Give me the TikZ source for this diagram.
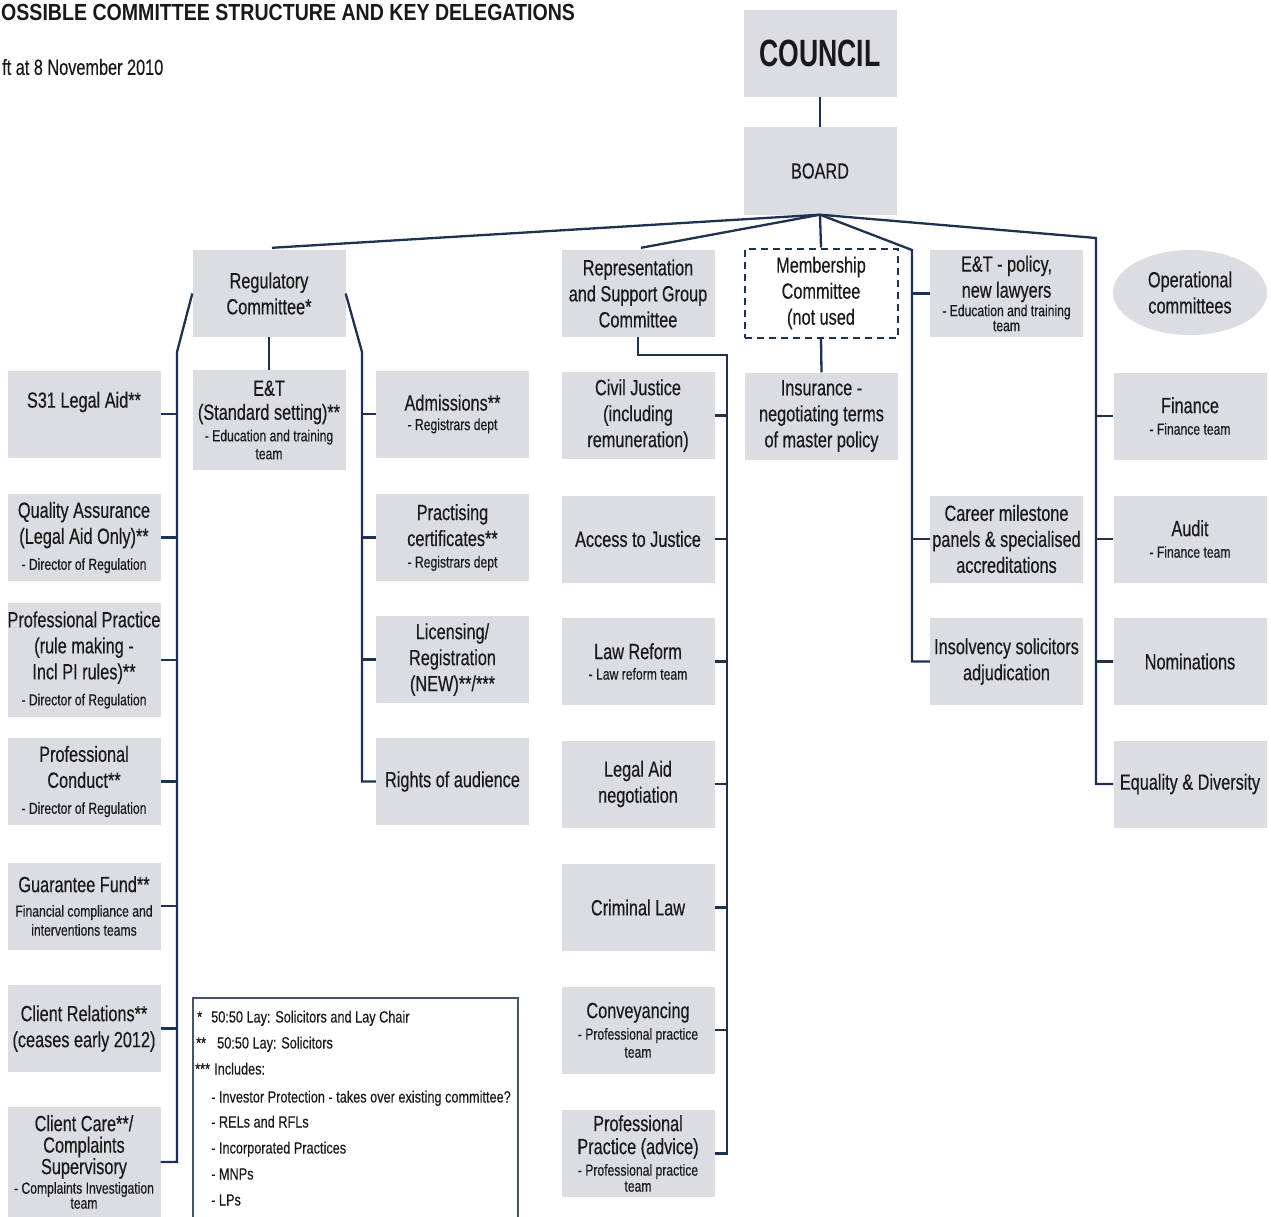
\documentclass[tikz,border=0pt]{standalone}
\usepackage{fontspec}
\setmainfont{Liberation Sans}
\newfontfamily\nar[FakeStretch=0.74,FakeBold=0.35]{Liberation Sans}
\newfontfamily\narsub[FakeStretch=0.76,FakeBold=0.3]{Liberation Sans}
\newfontfamily\narleg[FakeStretch=0.78,FakeBold=0.3]{Liberation Sans}
\newfontfamily\narbig[FakeStretch=0.7]{Liberation Sans}
\newfontfamily\tnar[FakeStretch=0.84]{Liberation Sans}
\usetikzlibrary{shapes.geometric}
\definecolor{boxg}{RGB}{219,221,227}
\definecolor{linec}{RGB}{28,50,80}
\definecolor{legc}{RGB}{70,85,105}
\definecolor{txt}{RGB}{25,25,25}
\newcommand\mysub{\narsub\fontsize{16}{18}\selectfont}
\newcommand\mymain{\nar\fontsize{22}{26}\selectfont}
\newcommand\mylegf{\narleg\fontsize{16.3}{19}\selectfont}
\tikzset{
  box/.style={fill=boxg, minimum width=153pt, minimum height=87pt, inner sep=0pt, align=center, font=\mymain, text=txt},
  conn/.style={draw=linec, line width=2.3pt},
  legtxt/.style={anchor=base west, inner sep=0pt, font=\mylegf, text=txt}
}
\begin{document}
\begin{tikzpicture}[x=1pt,y=-1pt]
\useasboundingbox (0,0) rectangle (1271,1217);
% header
\node[anchor=west, inner sep=0pt, font=\tnar\bfseries\fontsize{23.3}{26}\selectfont, text=txt] (title) at (1,12) {OSSIBLE COMMITTEE STRUCTURE AND KEY DELEGATIONS};
\node[anchor=west, inner sep=0pt, font=\mymain, text=txt] (draft) at (2,67) {ft at 8 November 2010};

% top
\node[box, font=\narbig\bfseries\fontsize{38}{40}\selectfont] (council) at (820,53.5) {COUNCIL};
\node[box] (board) at (820,171) {BOARD};

% second level
\node[box] (reg) at (269,293.5) {Regulatory\\Committee*};
\node[box] (rep) at (638,293.5) {Representation\\and Support Group\\Committee};
\node[box, fill=none, draw=linec, line width=2pt, dash pattern=on 7pt off 5pt, minimum height=89pt] (memb) at (821,293) {Membership\\Committee\\(not used};
\node[box] (etpol) at (1006.5,293.5) {E\&T - policy,\\new lawyers\\[-7.5pt]{\mysub - Education and training}\\[-11pt]{\mysub team}};
\node[box, ellipse, minimum width=154pt, minimum height=85pt] (oper) at (1190,292.5) {Operational\\committees};

% left column
\node[box] (s31) at (84,414) {\raisebox{12pt}[\height][\depth]{S31 Legal Aid**}};
\node[box] (qa) at (84,537.5) {Quality Assurance\\(Legal Aid Only)**\\{\mysub - Director of Regulation}};
\node[box, minimum height=114pt] (pp) at (84,660) {Professional Practice\\(rule making -\\Incl PI rules)**\\{\mysub - Director of Regulation}};
\node[box] (pc) at (84,781.5) {Professional\\Conduct**\\{\mysub - Director of Regulation}};
\node[box] (gf) at (84,906) {Guarantee Fund**\\[-1.5pt]{\mysub Financial compliance and}\\[-7pt]{\mysub interventions teams}};
\node[box] (cr) at (84,1028.5) {Client Relations**\\(ceases early 2012)};
\node[box, minimum height=110pt] (cc) at (84,1162) {Client Care**/\\[-4.5pt]Complaints\\[-4.5pt]Supervisory\\[-6.5pt]{\mysub - Complaints Investigation}\\[-11pt]{\mysub team}};

% regulatory sub
\node[box, minimum height=100pt] (etstd) at (269,420) {E\&T\\[-2pt](Standard setting)**\\[-4.5pt]{\mysub - Education and training}\\[-8pt]{\mysub team}};
\node[box] (adm) at (452.5,414) {Admissions**\\[-6.5pt]{\mysub - Registrars dept}};
\node[box] (prac) at (452.5,537.5) {Practising\\certificates**\\[-4.5pt]{\mysub - Registrars dept}};
\node[box] (lic) at (452.5,659.5) {Licensing/\\Registration\\(NEW)**/***};
\node[box] (rights) at (452.5,781.5) {Rights of audience};

% representation column
\node[box] (civil) at (638,415.5) {Civil Justice\\(including\\remuneration)};
\node[box] (access) at (638,539) {Access to Justice};
\node[box] (lawref) at (638,661.5) {Law Reform\\[-5.5pt]{\mysub - Law reform team}};
\node[box] (legalaid) at (638,784) {Legal Aid\\negotiation};
\node[box] (crim) at (638,907.5) {Criminal Law};
\node[box] (conv) at (638,1030) {Conveyancing\\[-4.5pt]{\mysub - Professional practice}\\[-8pt]{\mysub team}};
\node[box] (ppadv) at (638,1153.5) {Professional\\[-3pt]Practice (advice)\\[-4.5pt]{\mysub - Professional practice}\\[-10pt]{\mysub team}};

% membership
\node[box] (ins) at (821.5,416) {Insurance -\\negotiating terms\\of master policy};

% E&T policy column
\node[box] (career) at (1006.5,539) {Career milestone\\panels \& specialised\\accreditations};
\node[box] (insolv) at (1006.5,661.5) {Insolvency solicitors\\adjudication};

% operational column
\node[box] (fin) at (1190,416) {Finance\\[-4.5pt]{\mysub - Finance team}};
\node[box] (audit) at (1190,539) {Audit\\[-4.5pt]{\mysub - Finance team}};
\node[box] (nom) at (1190,661.5) {Nominations};
\node[box] (equal) at (1190,784) {Equality \& Diversity};

% spine coordinates
\coordinate (lsp) at (177,352);
\coordinate (rsp) at (362,352);
\coordinate (repsp) at (727,355);
\coordinate (etsp) at (912,250);
\coordinate (opsp) at (1096,238);

% connectors
\draw[conn] (council.south) -- (board.north);
\draw[conn] (board.south) -- ([xshift=3pt,yshift=2pt]reg.north);
\draw[conn] (board.south) -- ([xshift=3pt,yshift=2pt]rep.north);
\draw[conn] (board.south) -- (memb.north);
\draw[conn] (board.south) -- (etsp) -- (etsp |- insolv.west) -- (insolv.west);
\draw[conn] (board.south) -- (opsp) -- (opsp |- equal.west) -- (equal.west);

\draw[conn] (reg.west) -- (lsp) -- (lsp |- cc.east) -- (cc.east);
\draw[conn] (reg.east) -- (rsp) -- (rsp |- rights.west) -- (rights.west);
\draw[conn] (reg.south) -- (etstd.north);
\foreach \n in {s31,qa,pp,pc,gf,cr}{\draw[conn] (\n.east) -- (\n.east -| lsp);}
\foreach \n in {adm,prac,lic}{\draw[conn] (\n.west) -- (\n.west -| rsp);}

\draw[conn] (rep.south) -- (rep.south |- repsp) -- (repsp) -- (repsp |- ppadv.east) -- (ppadv.east);
\foreach \n in {civil,access,lawref,legalaid,crim,conv}{\draw[conn] (\n.east) -- (\n.east -| repsp);}

\draw[conn] (memb.south) -- (ins.north);
\foreach \n in {etpol,career}{\draw[conn] (\n.west) -- (\n.west -| etsp);}
\foreach \n in {fin,audit,nom}{\draw[conn] (\n.west) -- (\n.west -| opsp);}

% legend
\coordinate (lg1) at (193,1217);
\coordinate (lg2) at (193,998);
\coordinate (lg3) at (518,998);
\coordinate (lg4) at (518,1217);
\draw[draw=legc, line width=1.4pt] (lg1) -- (lg2) -- (lg3) -- (lg4);
\node[legtxt] (l1a) at (197,1022.5) {*};
\node[legtxt] (l1b) at (211,1022.5) {50:50 Lay: Solicitors and Lay Chair};
\node[legtxt] (l2a) at (196,1048.5) {**};
\node[legtxt] (l2b) at (217,1048.5) {50:50 Lay: Solicitors};
\node[legtxt] (l3a) at (195,1074.5) {***};
\node[legtxt] (l3b) at (214,1074.5) {Includes:};
\node[legtxt] (l4) at (211,1102.5) {- Investor Protection - takes over existing committee?};
\node[legtxt] (l5) at (211,1127.5) {- RELs and RFLs};
\node[legtxt] (l6) at (211,1153.5) {- Incorporated Practices};
\node[legtxt] (l7) at (211,1179.5) {- MNPs};
\node[legtxt] (l8) at (211,1205.5) {- LPs};
\end{tikzpicture}
\end{document}
